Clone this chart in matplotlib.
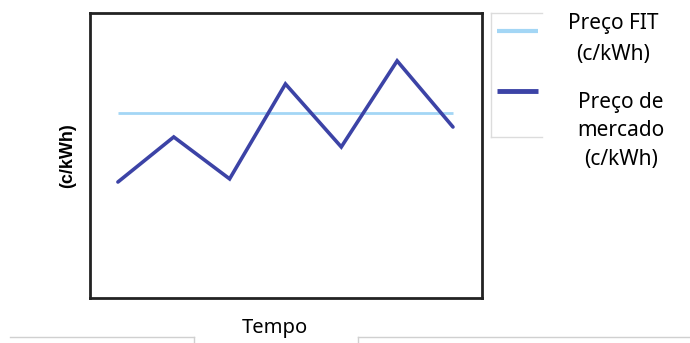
import matplotlib
matplotlib.use("Agg")
import matplotlib.pyplot as plt
from matplotlib.lines import Line2D

plt.rcParams['font.family'] = ['Noto Sans', 'DejaVu Sans']

# Data
periods = [0, 1, 2, 3, 4, 5, 6]
market_price = [4.07, 5.65, 4.18, 7.51, 5.30, 8.32, 6.00]
fit_price = [6.49, 6.49, 6.49, 6.49, 6.49, 6.49, 6.49]
labels = ["Preço FIT\n(c/kWh)", "Preço de\nmercado\n(c/kWh)"]
xlabel = "Tempo"
ylabel = "(c/kWh)"

W, H = 690, 343
fig = plt.figure(figsize=(W / 100, H / 100), dpi=100)
ax = fig.add_axes([90 / W, (H - 298) / H, 392 / W, 285 / H])

fit_color = "#A3D6F5"
mkt_color = "#3C43A6"
ax.plot(periods, fit_price, color=fit_color, lw=2.0, solid_capstyle='butt')
ax.plot(periods, market_price, color=mkt_color, lw=2.6, solid_capstyle='round', solid_joinstyle='miter')

ax.set_xlim(-0.5, 6.52)
ax.set_ylim(0, 10)
ax.set_xticks([])
ax.set_yticks([])
for s in ax.spines.values():
    s.set_linewidth(2.0)
    s.set_color("#222222")

def px(x, y):
    return x / W, 1 - y / H

# axis labels
fig.text(*px(275, 328), xlabel, ha='center', va='center', fontsize=14.5, color='black')
fig.text(*px(68, 156), ylabel, ha='center', va='center', rotation=90,
         fontsize=13, fontweight='bold', family=['Liberation Sans', 'DejaVu Sans'])

# legend box (left, top, bottom borders)
box_c = "#DCDCDC"
for xs, ys in [((491, 491), (13, 137)), ((491, 542), (13, 13)), ((491, 542), (137, 137))]:
    fig.add_artist(Line2D([x / W for x in xs], [1 - y / H for y in ys],
                          transform=fig.transFigure, color=box_c, lw=1.0))
# legend handles
fig.add_artist(Line2D([497 / W, 538 / W], [1 - 31 / H] * 2, transform=fig.transFigure,
                      color=fit_color, lw=3.0, solid_capstyle='butt'))
fig.add_artist(Line2D([497 / W, 538 / W], [1 - 91 / H] * 2, transform=fig.transFigure,
                      color=mkt_color, lw=3.5, solid_capstyle='butt'))
fig.text(*px(613, 39), labels[0], ha='center', va='center', fontsize=15,
         multialignment='center', linespacing=1.6)
fig.text(*px(621, 131), labels[1], ha='center', va='center', fontsize=15,
         multialignment='center', linespacing=1.45)

# thin gray lines at the bottom
line_c = "#D0D0D0"
for xs, ys in [((10, 194), (337, 337)), ((194, 194), (337, 343)),
               ((358, 358), (337, 343)), ((358, 690), (337, 337))]:
    fig.add_artist(Line2D([x / W for x in xs], [1 - y / H for y in ys],
                          transform=fig.transFigure, color=line_c, lw=1.0))

fig.savefig("out.png", dpi=100)
